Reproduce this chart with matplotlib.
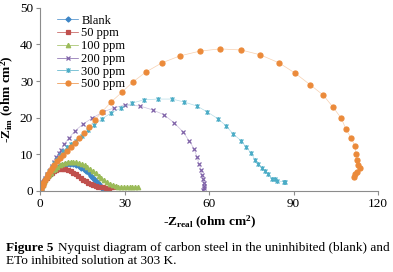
import matplotlib
matplotlib.use('Agg')
import matplotlib.pyplot as plt
from matplotlib.path import Path

plt.rcParams['font.family'] = ['Liberation Serif', 'DejaVu Serif']
plt.rcParams['mathtext.fontset'] = 'custom'
plt.rcParams['mathtext.rm'] = 'Liberation Serif:bold'
plt.rcParams['mathtext.bf'] = 'Liberation Serif:bold'
plt.rcParams['mathtext.it'] = 'Liberation Serif:bold'

# Blank
blank_x = [0.2, 0.4, 0.7, 1.0, 1.4, 1.8, 2.3, 2.8, 3.4, 4.0, 4.7, 5.4, 6.2, 7.0, 7.9, 8.8, 9.7, 10.7,
           11.7, 12.7, 13.7, 14.6, 15.5, 16.4, 17.2, 18.0, 18.8, 19.5, 20.2, 20.8, 21.4, 21.9, 22.3, 22.6, 22.8]
blank_y = [0.3, 0.8, 1.4, 2.0, 2.7, 3.3, 3.9, 4.5, 5.0, 5.5, 5.9, 6.3, 6.6, 6.9, 7.1, 7.3, 7.4, 7.4,
           7.3, 7.1, 6.8, 6.4, 5.9, 5.4, 4.8, 4.2, 3.6, 3.0, 2.4, 1.9, 1.4, 0.9, 0.5, 0.1, -0.3]

# 50 ppm
p50_x = [0.2, 0.5, 0.9, 1.3, 1.8, 2.3, 2.9, 3.5, 4.2, 4.9, 5.7, 6.5, 7.3, 8.1, 9.0, 9.9, 10.8, 11.7,
         12.6, 13.5, 14.4, 15.3, 16.2, 17.1, 18.0, 18.9, 19.8, 20.7, 21.6, 22.5, 23.4, 24.3, 25.2, 26.0]
p50_y = [0.4, 1.0, 1.7, 2.4, 3.0, 3.6, 4.1, 4.6, 5.0, 5.4, 5.7, 5.9, 6.0, 6.0, 5.9, 5.7, 5.4, 5.0,
         4.5, 4.0, 3.5, 3.0, 2.6, 2.2, 1.8, 1.5, 1.3, 1.1, 1.0, 1.0, 0.9, 0.9, 1.0, 1.0]

# 100 ppm
p100_x = [0.2, 0.5, 0.9, 1.4, 1.9, 2.5, 3.1, 3.8, 4.5, 5.3, 6.1, 7.0, 7.9, 8.8, 9.8, 10.8, 11.8, 12.8,
          13.8, 14.8, 15.8, 16.8, 17.8, 18.8, 19.8, 20.8, 21.8, 22.8, 23.8, 24.8, 25.8, 26.8, 27.8,
          28.8, 29.8, 30.8, 31.8, 32.8, 33.8, 34.8]
p100_y = [0.4, 1.0, 1.7, 2.4, 3.1, 3.8, 4.4, 5.0, 5.6, 6.1, 6.6, 7.0, 7.4, 7.7, 7.9, 8.0, 8.0, 7.9,
          7.7, 7.4, 7.0, 6.5, 6.0, 5.4, 4.8, 4.2, 3.6, 3.0, 2.5, 2.0, 1.7, 1.4, 1.2,
          1.1, 1.0, 1.0, 1.0, 1.0, 1.1, 1.1]

# 200 ppm
p200_x = [0.2, 0.5, 1.1, 1.8, 2.5, 3.6, 4.3, 5.0, 5.7, 6.7, 7.5, 8.5, 10.3, 12.4, 15.3, 18.5, 22.4,
          26.3, 30.2, 35.5, 40.1, 44.0, 47.6, 50.8, 52.9, 54.7, 55.7, 56.4, 57.2, 57.5, 57.9, 58.2,
          58.2, 58.2, 57.9]
p200_y = [0.3, 1.4, 2.5, 3.6, 4.6, 5.7, 6.8, 7.9, 9.3, 10.4, 11.2, 12.8, 14.5, 16.4, 18.3, 19.9, 21.6,
          22.7, 23.5, 23.2, 22.1, 20.8, 18.6, 16.1, 13.7, 11.5, 9.3, 7.4, 5.7, 4.4, 3.3, 2.2,
          1.4, 0.8, 0.3]

# 300 ppm
p300_x = [0.2, 0.5, 1.1, 1.8, 2.5, 3.2, 4.3, 5.0, 6.0, 7.1, 8.2, 9.6, 11.0, 12.8, 14.9, 17.0, 19.2,
          22.0, 25.2, 28.8, 32.7, 36.9, 41.9, 46.9, 51.1, 55.7, 59.3, 63.2, 66.0, 68.5, 71.4, 73.1,
          74.9, 76.3, 77.4, 78.8, 79.9, 80.9, 82.4, 83.4, 84.1, 86.6, 87.0]
p300_y = [0.3, 1.1, 2.2, 3.3, 4.4, 5.5, 6.6, 7.7, 8.7, 9.8, 10.9, 12.0, 12.8, 13.7, 15.0, 16.7, 18.0,
          19.7, 21.3, 22.7, 24.0, 24.9, 25.1, 25.1, 24.3, 23.2, 21.6, 19.7, 17.8, 15.6, 13.7, 12.0,
          10.4, 8.5, 7.4, 6.3, 5.5, 4.6, 3.3, 3.3, 2.7, 2.5, 2.5]

# 500 ppm
p500_x = [0.1, 0.3, 0.5, 0.9, 1.2, 1.8, 2.3, 2.8, 3.6, 4.3, 5.0, 6.0, 7.1, 8.2, 9.6, 11.0, 12.4, 13.8,
          15.6, 17.4, 19.5, 22.0, 25.2, 29.1, 33.0, 37.6, 43.3, 49.7, 56.8, 63.9, 71.4, 78.1, 84.8,
          90.5, 95.9, 100.5, 104.0, 106.9, 108.6, 110.4, 111.8, 112.2, 112.5, 112.9, 113.6, 112.5,
          111.8, 111.5]
p500_y = [0.1, 0.5, 1.1, 1.6, 2.2, 3.0, 3.8, 4.6, 5.5, 6.3, 7.1, 8.2, 9.0, 9.8, 10.9, 12.0, 13.1, 14.5,
          15.8, 17.5, 19.4, 21.6, 24.3, 27.0, 29.8, 32.5, 35.0, 36.9, 38.2, 38.8, 38.5, 37.2, 35.0,
          32.2, 29.0, 26.2, 22.9, 19.9, 16.9, 14.5, 12.3, 10.1, 8.5, 7.1, 6.3, 5.2,
          4.6, 3.8]

star = Path([(-1, -1), (1, 1), (-1, 1), (1, -1), (0, -1.2), (0, 1.2)],
            [Path.MOVETO, Path.LINETO, Path.MOVETO, Path.LINETO, Path.MOVETO, Path.LINETO])

series = [
    ('Blank', blank_x, blank_y, '#3D85C6', 'D', 2.6),
    ('50 ppm', p50_x, p50_y, '#C0504D', 's', 3.0),
    ('100 ppm', p100_x, p100_y, '#9BBB59', '^', 3.2),
    ('200 ppm', p200_x, p200_y, '#7F62A8', 'x', 3.0),
    ('300 ppm', p300_x, p300_y, '#4BACC6', star, 3.4),
    ('500 ppm', p500_x, p500_y, '#EB8A3A', 'o', 3.6),
]

fig = plt.figure(figsize=(3.93, 2.72), dpi=100)
ax = fig.add_axes([0.102, 0.298, 0.86, 0.673])

for name, xs, ys, c, m, ms in series:
    ax.plot(xs, ys, color=c, lw=0.5, alpha=0.4)
    ax.plot(xs, ys, ls='none', marker=m, ms=ms, color=c, mec=c, mew=0.9)
    ax.plot([], [], color=c, lw=0.5, marker=m, ms=ms, mec=c, mew=0.9, label=name)

ax.set_xlim(0, 120)
ax.set_ylim(0, 50)
ax.set_xticks([0, 30, 60, 90, 120])
ax.set_yticks([0, 10, 20, 30, 40, 50])
for s in ['top', 'right']:
    ax.spines[s].set_visible(False)
for s in ['left', 'bottom']:
    ax.spines[s].set_color('#8C8C8C')
    ax.spines[s].set_linewidth(0.8)
ax.tick_params(labelsize=9.5, length=3, width=0.8, color='#8C8C8C', pad=2)

ax.set_xlabel(r'-Z$_{\mathbf{real}}$ (ohm cm$^{\mathbf{2}}$)', fontsize=9.5, fontweight='bold', labelpad=3)
ax.set_ylabel(r'-Z$_{\mathbf{im}}$ (ohm cm$^{\mathbf{2}}$)', fontsize=9.5, fontweight='bold', labelpad=3)

ax.legend(loc='upper left', bbox_to_anchor=(0.035, 0.99), frameon=False, fontsize=9,
          handlelength=1.7, handletextpad=0.25, labelspacing=0.06, borderaxespad=0)

# caption
fig.canvas.draw()
r = fig.canvas.get_renderer()
t1 = fig.text(6 / 393, 1 - 251 / 272, 'Figure 5', fontsize=9.5, fontweight='bold', va='baseline')
bb = t1.get_window_extent(r)
fig.text(bb.x1 / 393 + 0.012, 1 - 251 / 272,
         'Nyquist diagram of carbon steel in the uninhibited (blank) and',
         fontsize=9.5, va='baseline')
fig.text(6 / 393, 1 - 264 / 272, 'ETo inhibited solution at 303 K.', fontsize=9.5, va='baseline')

fig.savefig('out.png', dpi=100)
